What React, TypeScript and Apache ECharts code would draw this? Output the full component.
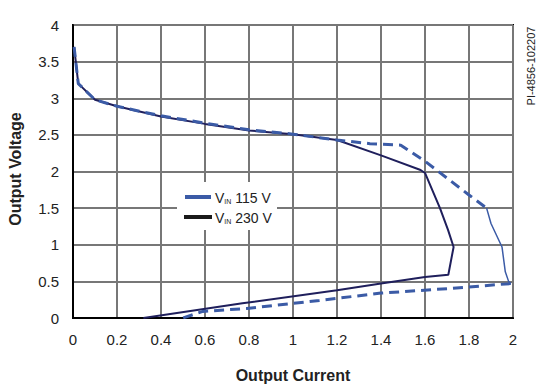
import React, { useEffect, useRef } from "react";
import * as echarts from "echarts";

const xTicks = [0, 0.2, 0.4, 0.6, 0.8, 1, 1.2, 1.4, 1.6, 1.8, 2];
const yTicks = [0, 0.5, 1, 1.5, 2, 2.5, 3, 3.5, 4];

// V_IN 230 V curve (current, voltage)
const vin230: [number, number][] = [
  [0.005, 3.7], [0.024, 3.2], [0.1, 2.98], [0.2, 2.89], [0.4, 2.75], [0.6, 2.65],
  [0.8, 2.56], [1.0, 2.51], [1.2, 2.43], [1.4, 2.22], [1.58, 2.02], [1.6, 1.98],
  [1.668, 1.5], [1.705, 1.2], [1.73, 0.97], [1.706, 0.59], [1.6, 0.56], [1.4, 0.47],
  [1.2, 0.38], [0.77, 0.2], [0.32, 0.0],
];

// V_IN 115 V curve, upper dashed part
const vin115Upper: [number, number][] = [
  [0.005, 3.7], [0.024, 3.2], [0.1, 2.98], [0.2, 2.89], [0.4, 2.76], [0.6, 2.66],
  [0.8, 2.57], [1.0, 2.51], [1.2, 2.43], [1.35, 2.38], [1.49, 2.36], [1.6, 2.14],
  [1.8, 1.68], [1.88, 1.5],
];
// V_IN 115 V curve, thin part at the right
const vin115Edge: [number, number][] = [
  [1.88, 1.5], [1.9, 1.29], [1.95, 0.97], [1.965, 0.63], [1.98, 0.5], [1.99, 0.47],
];
// V_IN 115 V curve, lower dashed part
const vin115Lower: [number, number][] = [
  [1.99, 0.47], [1.7, 0.4], [1.4, 0.34], [1.12, 0.24], [0.79, 0.13], [0.59, 0.09], [0.5, 0.0],
];

const legendLabels = ["115 V", "230 V"];

const FONT = "'Liberation Sans', Arial, Helvetica, sans-serif";
const BLUE = "#3b5ba6";
const NAVY = "#1f1f5c";

export default function App() {
  const ref = useRef<HTMLDivElement>(null);
  useEffect(() => {
    if (!ref.current) return;
    const chart = echarts.init(ref.current, null, { renderer: "svg" });
    const fmt = (v: number) => String(+v.toFixed(1));
    chart.setOption({
      animation: false,
      grid: {
        left: 73, top: 25, right: 26, bottom: 72,
        show: true, borderColor: "#000", borderWidth: 2,
      },
      xAxis: {
        type: "value", min: xTicks[0], max: xTicks[xTicks.length - 1], interval: 0.2,
        axisLine: { show: true, lineStyle: { color: "#000", width: 2 } },
        axisTick: { show: false },
        axisLabel: { formatter: fmt, margin: 14, fontSize: 15, color: "#222", fontFamily: FONT },
        splitLine: { show: true, lineStyle: { color: "#777", width: 2 } },
      },
      yAxis: {
        type: "value", min: yTicks[0], max: yTicks[yTicks.length - 1], interval: 0.5,
        axisLine: { show: true, lineStyle: { color: "#000", width: 2 } },
        axisTick: { show: false },
        axisLabel: { formatter: fmt, margin: 14, fontSize: 15, color: "#222", fontFamily: FONT },
        splitLine: { show: true, lineStyle: { color: "#777", width: 2 } },
      },
      series: [
        {
          type: "line", data: vin230, showSymbol: false, symbol: "none",
          lineStyle: { color: NAVY, width: 2 }, z: 3,
        },
        {
          type: "line", data: vin115Upper, showSymbol: false, symbol: "none",
          lineStyle: { color: BLUE, width: 3, type: [10, 6] }, z: 4,
        },
        {
          type: "line", data: vin115Edge, showSymbol: false, symbol: "none",
          lineStyle: { color: BLUE, width: 1.5 }, z: 4,
        },
        {
          type: "line", data: vin115Lower, showSymbol: false, symbol: "none",
          lineStyle: { color: BLUE, width: 3, type: [10, 6] }, z: 4,
        },
      ],
      graphic: [
        { type: "rect", shape: { x: 177, y: 182, width: 100, height: 48 }, style: { fill: "#fff" }, z: 10 },
        { type: "line", shape: { x1: 185, y1: 197, x2: 211, y2: 197 }, style: { stroke: BLUE, lineWidth: 4 }, z: 11 },
        { type: "line", shape: { x1: 184, y1: 217, x2: 212, y2: 217 }, style: { stroke: "#1a1a1a", lineWidth: 4 }, z: 11 },
        {
          type: "text", x: 215, y: 198, z: 11,
          style: {
            text: "{v|V}{s|IN}{v| " + legendLabels[0] + "}",
            verticalAlign: "middle", fill: "#222", font: `14px ${FONT}`,
            rich: {
              v: { fontSize: 14, fontFamily: FONT, fill: "#222" },
              s: { fontSize: 7, fontFamily: FONT, fill: "#222", verticalAlign: "bottom", padding: [6, 0, 0, 0] },
            },
          },
        },
        {
          type: "text", x: 215, y: 218, z: 11,
          style: {
            text: "{v|V}{s|IN}{v| " + legendLabels[1] + "}",
            verticalAlign: "middle", fill: "#222", font: `14px ${FONT}`,
            rich: {
              v: { fontSize: 14, fontFamily: FONT, fill: "#222" },
              s: { fontSize: 7, fontFamily: FONT, fill: "#222", verticalAlign: "bottom", padding: [6, 0, 0, 0] },
            },
          },
        },
        {
          type: "text", x: 293, y: 375, z: 11,
          style: { text: "Output Current", align: "center", verticalAlign: "middle", fill: "#222", font: `bold 16px ${FONT}` },
        },
        {
          type: "text", x: 15, y: 169, rotation: Math.PI / 2, z: 11,
          style: { text: "Output Voltage", align: "center", verticalAlign: "middle", fill: "#222", font: `bold 16px ${FONT}` },
        },
        {
          type: "text", x: 531, y: 66, rotation: Math.PI / 2, z: 11,
          style: { text: "PI-4856-102207", align: "center", verticalAlign: "middle", fill: "#222", font: `11px ${FONT}` },
        },
      ],
    });
    return () => chart.dispose();
  }, []);
  return <div ref={ref} style={{ width: 539, height: 390, position: "absolute", left: 0, top: 0, background: "#fff" }} />;
}
